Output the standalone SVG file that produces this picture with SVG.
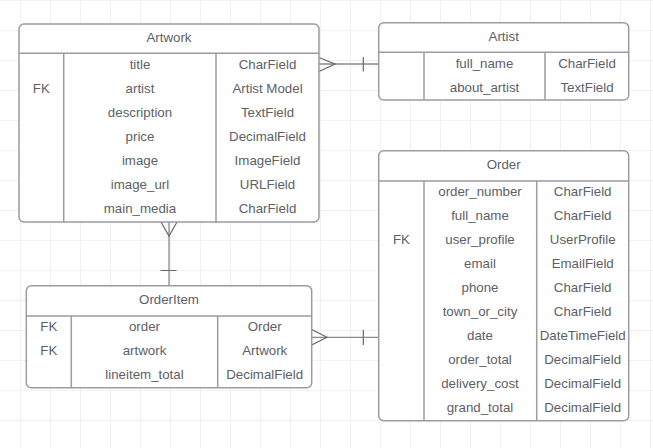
<svg xmlns="http://www.w3.org/2000/svg" width="653" height="448" viewBox="0 0 653 448">
<defs>
<pattern id="grid" x="20" y="0" width="30" height="30" patternUnits="userSpaceOnUse">
<path d="M0 0V30M0 0H30" fill="none" stroke="#e4e4e4" stroke-width="1"/>
</pattern>
</defs>
<style>
.box{fill:#fff;stroke:#9a9ca1;stroke-width:1.5}
.div{stroke:#9a9ca1;stroke-width:1.5;fill:none}
text{font-family:"Liberation Sans",Arial,sans-serif;font-size:13.3px;fill:#5d6068;text-anchor:middle}
.con{stroke:#8a8a8a;stroke-width:1.3;fill:none}
.mk{stroke:#666;stroke-width:1.2;fill:none}
</style>
<rect width="653" height="448" fill="#fff"/>
<rect width="653" height="448" fill="url(#grid)"/>

<g id="connectors">
<path class="con" d="M319 64H378.7"/>
<path class="mk" d="M319 57.5L335 64L319 71.5M363.3 57V71.5"/>
<path class="con" d="M169 222V285.7"/>
<path class="mk" d="M161 222L169 236L177 222M160.5 270.5H176.5"/>
<path class="con" d="M311.7 337.3H378.7"/>
<path class="mk" d="M311.7 329.5L327 337.3L311.7 345M363.3 330V345"/>
</g>

<g id="artwork">
<rect class="box" x="19" y="24" width="300" height="198" rx="5"/>
<path class="div" d="M19 53.3H319M63.7 53.3V222M216 53.3V222"/>
<text x="169" y="41.5">Artwork</text>
<text x="41.3" y="93">FK</text>
<text x="140" y="68.5">title</text>
<text x="140" y="93">artist</text>
<text x="140" y="116.5">description</text>
<text x="140" y="140.5">price</text>
<text x="140" y="164.5">image</text>
<text x="140" y="188.5">image_url</text>
<text x="140" y="212.5">main_media</text>
<text x="267.5" y="68.5">CharField</text>
<text x="267.5" y="93">Artist Model</text>
<text x="267.5" y="116.5">TextField</text>
<text x="267.5" y="140.5">DecimalField</text>
<text x="267.5" y="164.5">ImageField</text>
<text x="267.5" y="188.5">URLField</text>
<text x="267.5" y="212.5">CharField</text>
</g>

<g id="artist">
<rect class="box" x="378.7" y="22.7" width="250" height="77.3" rx="5"/>
<path class="div" d="M378.7 52.3H628.7M424 52.3V100M545 52.3V100"/>
<text x="503.7" y="40.5">Artist</text>
<text x="484.5" y="67.5">full_name</text>
<text x="484.5" y="91.5">about_artist</text>
<text x="587" y="67.5">CharField</text>
<text x="587" y="91.5">TextField</text>
</g>

<g id="order">
<rect class="box" x="378.7" y="150.7" width="250" height="270" rx="5"/>
<path class="div" d="M378.7 181H628.7M424 181V420.7M536.7 181V420.7"/>
<text x="503.7" y="168.5">Order</text>
<text x="401.5" y="243.5">FK</text>
<text x="480" y="195.5">order_number</text>
<text x="480" y="219.5">full_name</text>
<text x="480" y="243.5">user_profile</text>
<text x="480" y="267.5">email</text>
<text x="480" y="291.5">phone</text>
<text x="480" y="315.5">town_or_city</text>
<text x="480" y="339.5">date</text>
<text x="480" y="363.5">order_total</text>
<text x="480" y="387.5">delivery_cost</text>
<text x="480" y="411.5">grand_total</text>
<text x="582.7" y="195.5">CharField</text>
<text x="582.7" y="219.5">CharField</text>
<text x="582.7" y="243.5">UserProfile</text>
<text x="582.7" y="267.5">EmailField</text>
<text x="582.7" y="291.5">CharField</text>
<text x="582.7" y="315.5">CharField</text>
<text x="582.7" y="339.5">DateTimeField</text>
<text x="582.7" y="363.5">DecimalField</text>
<text x="582.7" y="387.5">DecimalField</text>
<text x="582.7" y="411.5">DecimalField</text>
</g>

<g id="orderitem">
<rect class="box" x="26.3" y="285.7" width="285.4" height="102" rx="5"/>
<path class="div" d="M26.3 316H311.7M71.3 316V387.7M217.7 316V387.7"/>
<text x="169" y="303.5">OrderItem</text>
<text x="48.8" y="330.5">FK</text>
<text x="48.8" y="354.5">FK</text>
<text x="144.5" y="330.5">order</text>
<text x="144.5" y="354.5">artwork</text>
<text x="144.5" y="378.5">lineitem_total</text>
<text x="264.7" y="330.5">Order</text>
<text x="264.7" y="354.5">Artwork</text>
<text x="264.7" y="378.5">DecimalField</text>
</g>
</svg>
